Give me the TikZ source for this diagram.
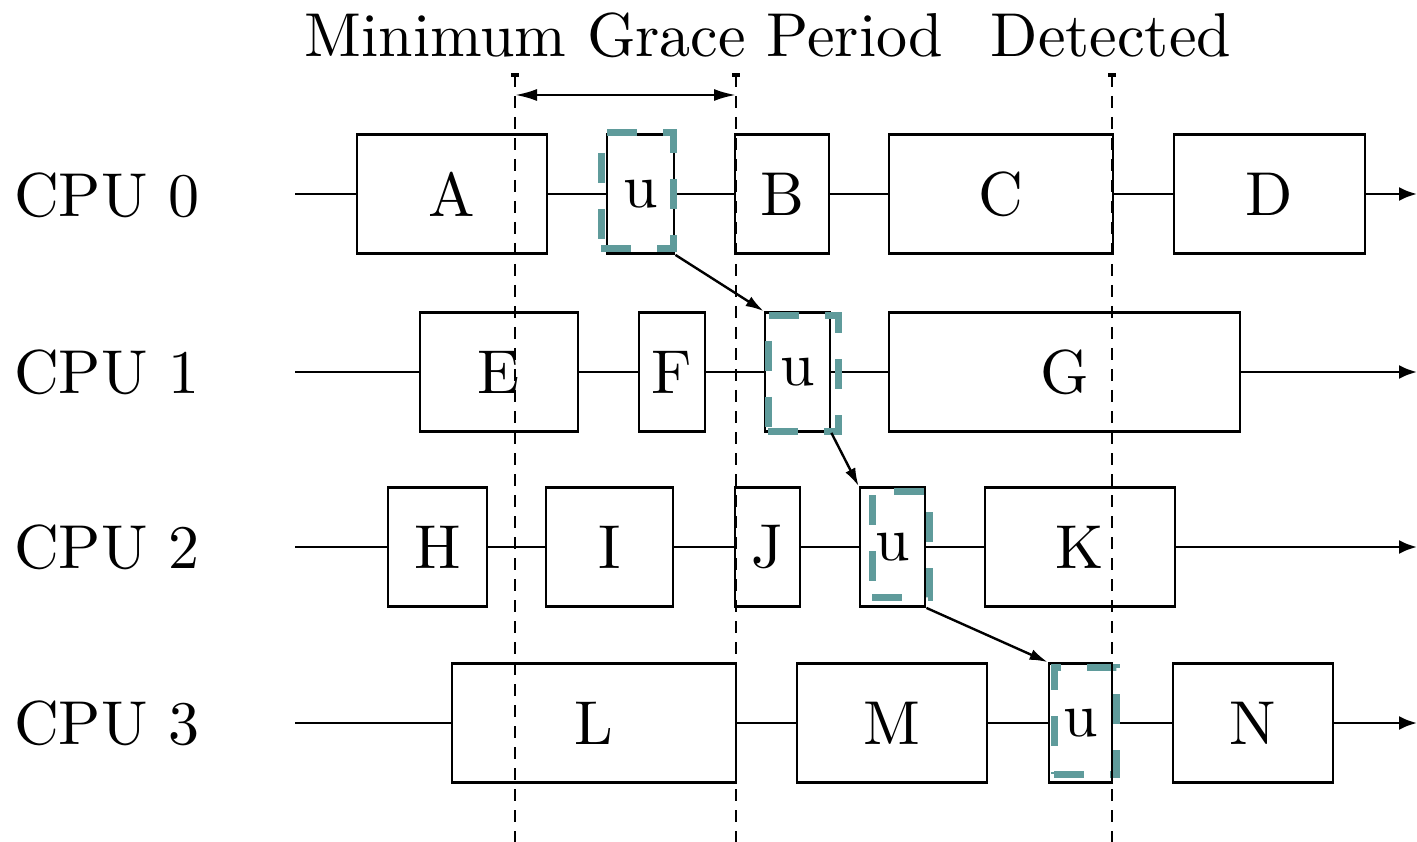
\documentclass[tikz,border=0pt]{standalone}
\usetikzlibrary{arrows.meta}
\definecolor{teal0}{RGB}{95,155,155}
\font\bigrm="[lmroman10-regular.otf]" at 62pt
\begin{document}
\begin{tikzpicture}[x=1pt,y=-1pt,
  big/.style={font=\bigrm},
  box/.style={draw, line width=2.8pt, fill=white, inner sep=0pt, minimum height=119pt, font=\bigrm},
  uframe/.style={draw=teal0, line width=7pt, dash pattern=on 30pt off 26pt, inner sep=0pt},
  tline/.style={line width=2.8pt, -{Latex[length=18pt,width=14pt]}},
  guide/.style={line width=2.8pt, dash pattern=on 12pt off 9pt},
  hop/.style={line width=2.4pt, -{Latex[length=18pt,width=11pt]}}]
\useasboundingbox (0,0) rectangle (1417,842);
% titles
\node[big] (t1) at (624,35) {Minimum Grace Period};
\node[big] (t2) at (1111,35) {Detected};
% CPU labels
\node[big, anchor=west, inner sep=0pt] (c0) at (14,195) {CPU 0};
\node[big, anchor=west, inner sep=0pt] (c1) at (14,372) {CPU 1};
\node[big, anchor=west, inner sep=0pt] (c2) at (14,547) {CPU 2};
\node[big, anchor=west, inner sep=0pt] (c3) at (14,723) {CPU 3};
% timelines
\foreach \i/\y in {0/194,1/372,2/547,3/723}{
  \coordinate (s\i) at (295,\y);
  \coordinate (e\i) at (1417,\y);
  \draw[tline] (s\i) -- (e\i);
}
% CPU 0
\node[box, minimum width=190pt] (A) at (452,194) {A};
\node[box, minimum width=67pt] (u0) at (640.5,194) {u};
\node[box, minimum width=94pt] (B) at (782,194) {B};
\node[box, minimum width=224pt] (C) at (1001,194) {C};
\node[box, minimum width=191pt] (D) at (1269.5,194) {D};
% CPU 1
\node[box, minimum width=158pt] (E) at (499,372) {E};
\node[box, minimum width=66pt] (F) at (672,372) {F};
\node[box, minimum width=65pt] (u1) at (797.5,372) {u};
\node[box, minimum width=351pt] (G) at (1064.5,372) {G};
% CPU 2
\node[box, minimum width=99pt] (H) at (437.5,547) {H};
\node[box, minimum width=127pt] (I) at (609.5,547) {I};
\node[box, minimum width=65pt] (J) at (767.5,547) {J};
\node[box, minimum width=65pt] (u2) at (892.5,547) {u};
\node[box, minimum width=190pt] (K) at (1080,547) {K};
% CPU 3
\node[box, minimum width=284pt] (L) at (594,723) {L};
\node[box, minimum width=190pt] (M) at (892,723) {M};
\node[box, minimum width=63pt] (u3) at (1080.5,723) {u};
\node[box, minimum width=160pt] (N) at (1253,723) {N};
% teal frames
\node[uframe, minimum width=72pt, minimum height=116pt] (f0) at (637,191) {};
\node[uframe, minimum width=70pt, minimum height=115pt] (f1) at (803,373.5) {};
\node[uframe, minimum width=57pt, minimum height=106pt] (f2) at (900.5,544) {};
\node[uframe, minimum width=62pt, minimum height=107pt] (f3) at (1085,720.5) {};
% hops
\draw[hop] (u0.south east) -- (u1.north west);
\draw[hop] (u1.south east) -- (u2.north west);
\draw[hop] (u2.south east) -- (u3.north west);
% guides
\foreach \i/\x in {1/515,2/736,3/1112}{
  \coordinate (g\i t) at (\x,75);
  \coordinate (g\i b) at (\x,842);
  \draw[guide] (g\i t) -- (g\i b);
  \draw[line width=3.5pt] ([xshift=-4pt]g\i t) -- ([xshift=4pt]g\i t);
}
\draw[line width=2.6pt, {Latex[length=22pt,width=12pt]}-{Latex[length=22pt,width=12pt]}] ([yshift=-20pt]g1t) -- ([yshift=-20pt]g2t);
\end{tikzpicture}
\end{document}
